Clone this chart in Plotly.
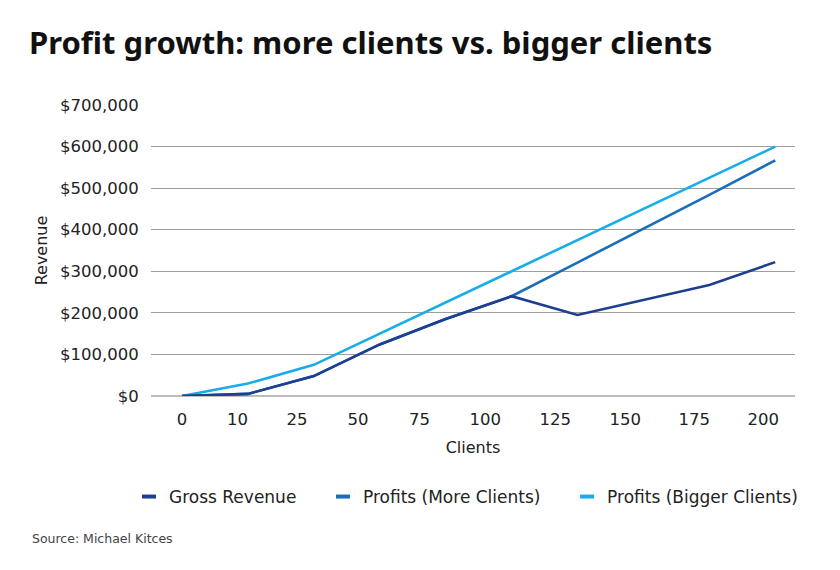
import plotly.graph_objects as go

# ---- data ----
clients = ["0", "10", "25", "50", "75", "100", "125", "150", "175", "200"]
gross_revenue = [0, 5000, 48000, 124000, 185000, 240000, 195000, 231000, 267000, 322000]
profits_more = [0, 5000, 48000, 124000, 185000, 240000, 321000, 402000, 484000, 567000]
profits_bigger = [0, 30000, 75000, 150000, 225000, 300000, 375000, 450000, 525000, 600000]
y_ticks = [0, 100000, 200000, 300000, 400000, 500000, 600000, 700000]
y_tick_labels = ["$0", "$100,000", "$200,000", "$300,000", "$400,000",
                 "$500,000", "$600,000", "$700,000"]

series_names = ["Gross Revenue", "Profits (More Clients)", "Profits (Bigger Clients)"]
colors = ["#1e3f8f", "#1a6db8", "#17ade8"]

# label positions of the category axis in the reference (in point-index units)
label_pos = [0, 0.843, 1.745, 2.67, 3.603, 4.6, 5.663, 6.725, 7.772, 8.82]

idx = list(range(len(clients)))
font = "'DejaVu Sans', Verdana, sans-serif"
title_font = "'Noto Sans', 'Open Sans', sans-serif"

# the page has an 8px body margin, so the figure is drawn 8px in and 8px down
W, H = 832, 562
ML, MR, MT, MB = 143, 45, 97, 174
PW, PH = W - ML - MR, H - MT - MB

fig = go.Figure()
# draw order: bigger, more, gross (gross on top)
for name, vals, col in [(series_names[2], profits_bigger, colors[2]),
                        (series_names[1], profits_more, colors[1]),
                        (series_names[0], gross_revenue, colors[0])]:
    fig.add_trace(go.Scatter(x=idx, y=vals, mode="lines", name=name,
                             line=dict(color=col, width=2.6),
                             customdata=clients,
                             hovertemplate="Clients %{customdata}: %{y:$,.0f}<extra>" + name + "</extra>",
                             showlegend=False))
# legend entries (short dash symbols)
pad = "\u00a0" * 4
for i, (name, col) in enumerate(zip(series_names, colors)):
    label = name + (pad if i < len(series_names) - 1 else "")
    fig.add_trace(go.Scatter(x=[None], y=[None], mode="markers", name=label,
                             marker=dict(symbol="line-ew-open", size=10, color=col,
                                         line=dict(color=col, width=4)),
                             legendrank=i + 1, showlegend=True))

fig.update_layout(
    width=W, height=H,
    paper_bgcolor="white", plot_bgcolor="white",
    margin=dict(l=ML, r=MR, t=MT, b=MB),
    font=dict(family=font, size=16.5, color="#222222"),
    title=dict(text="<b>Profit growth: more clients vs. bigger clients</b>",
               x=21 / W, xanchor="left", xref="container",
               y=1 - 35.5 / H, yanchor="middle", yref="container",
               font=dict(family=title_font, size=31, color="#111111")),
    legend=dict(orientation="h", x=(121 - ML) / PW, xanchor="left", xref="paper",
                y=(H - MB - 489) / PH, yanchor="middle", yref="paper",
                font=dict(family=font, size=17, color="#222222"), itemwidth=30),
    showlegend=True,
)

fig.update_xaxes(range=[-0.47, 9.30], tickmode="array", tickvals=label_pos,
                 ticktext=clients, showgrid=False, zeroline=False,
                 showline=False, ticks="outside", ticklen=8,
                 tickcolor="rgba(0,0,0,0)", automargin=False,
                 tickfont=dict(size=16.5),
                 title=dict(text="Clients", standoff=14,
                            font=dict(size=16, color="#222222")))
fig.update_yaxes(range=[0, 700000], tickmode="array", tickvals=y_ticks,
                 ticktext=y_tick_labels, showgrid=True, gridcolor="#9f9f9f",
                 gridwidth=1, zeroline=True, zerolinecolor="#bdbdbd",
                 zerolinewidth=2, showline=False, ticks="outside", ticklen=8,
                 tickcolor="rgba(0,0,0,0)", automargin=False,
                 tickfont=dict(size=16.5),
                 title=dict(text="Revenue", standoff=8,
                            font=dict(size=16, color="#222222")))

fig.add_annotation(text="Source: Michael Kitces",
                   x=(22 - ML) / PW, xref="paper", xanchor="left",
                   y=(H - MB - 530) / PH, yref="paper", yanchor="middle",
                   showarrow=False,
                   font=dict(family=font, size=12.5, color="#444444"))

fig.write_html("out.html")
